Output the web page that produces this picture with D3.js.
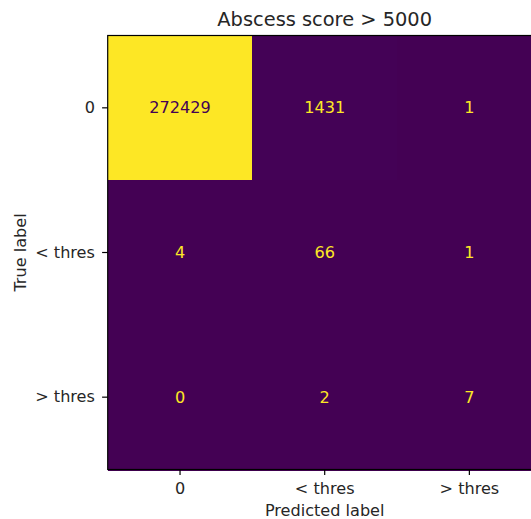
<!DOCTYPE html>
<html>
<head>
<meta charset="utf-8">
<script src="https://cdn.jsdelivr.net/npm/d3@7"></script>
<style>
  body { margin: 0; background: #fff; }
  svg { display: block; font-family: "DejaVu Sans", sans-serif; }
</style>
</head>
<body>
<svg></svg>
<script>
let width = 531, height = 519;

// confusion matrix data
let trueLabels = ["0", "< thres", "> thres"];
let predLabels = ["0", "< thres", "> thres"];
let counts = [
    [272429, 1431, 1],
    [4, 66, 1],
    [0, 2, 7]
];
let title = "Abscess score > 5000";

let svg = d3.select("svg")
    .attr("width", width)
    .attr("height", height);

// axes box (cut off on the right like the original)
let boxLeft = 107.7, boxTop = 35.5, boxSize = 434;
let fs = 16.1;

let x = d3.scaleBand().domain(predLabels).range([boxLeft, boxLeft + boxSize]);
let y = d3.scaleBand().domain(trueLabels).range([boxTop, boxTop + boxSize]);

let maxVal = d3.max(counts.flat());
let color = d3.scaleSequential(d3.interpolateViridis).domain([0, maxVal]);

let cells = [];
counts.forEach((row, i) => {
    row.forEach((v, j) => {
        cells.push({ t: trueLabels[i], p: predLabels[j], v: v });
    });
});

svg.append("g")
    .attr("shape-rendering", "crispEdges")
    .selectAll("rect")
    .data(cells)
    .enter()
    .append("rect")
    .attr("x", d => x(d.p))
    .attr("y", d => y(d.t))
    .attr("width", x.bandwidth() + 1)
    .attr("height", y.bandwidth() + 1)
    .attr("fill", d => color(d.v));

// cell text, dark on bright cells and bright on dark ones
let thresh = maxVal / 2;
svg.append("g")
    .selectAll("text")
    .data(cells)
    .enter()
    .append("text")
    .attr("x", d => x(d.p) + x.bandwidth() / 2)
    .attr("y", d => y(d.t) + y.bandwidth() / 2)
    .attr("text-anchor", "middle")
    .attr("dominant-baseline", "central")
    .attr("font-size", fs + "px")
    .attr("fill", d => d.v < thresh ? color(maxVal) : color(0))
    .text(d => d.v);

// frame
svg.append("rect")
    .attr("x", boxLeft)
    .attr("y", boxTop)
    .attr("width", boxSize)
    .attr("height", boxSize)
    .attr("fill", "none")
    .attr("stroke", "black")
    .attr("stroke-width", 1.2);

// axes
let xAxis = svg.append("g")
    .attr("transform", "translate(0," + (boxTop + boxSize) + ")")
    .call(d3.axisBottom(x).tickSize(5.6).tickPadding(7.4));
let yAxis = svg.append("g")
    .attr("transform", "translate(" + boxLeft + ",0)")
    .call(d3.axisLeft(y).tickSize(5.6).tickPadding(7.2));

[xAxis, yAxis].forEach(g => {
    g.select(".domain").remove();
    g.selectAll(".tick line").attr("stroke", "black").attr("stroke-width", 1.2);
    g.selectAll(".tick text")
        .attr("font-size", fs + "px")
        .attr("font-family", "DejaVu Sans, sans-serif")
        .attr("fill", "#262626");
});

// labels
svg.append("text")
    .attr("x", boxLeft + boxSize / 2)
    .attr("y", 26)
    .attr("text-anchor", "middle")
    .attr("font-size", "19.4px")
    .attr("fill", "#262626")
    .text(title);

svg.append("text")
    .attr("x", boxLeft + boxSize / 2)
    .attr("y", 516)
    .attr("text-anchor", "middle")
    .attr("font-size", fs + "px")
    .attr("fill", "#262626")
    .text("Predicted label");

svg.append("text")
    .attr("transform", "translate(26," + (boxTop + boxSize / 2) + ") rotate(-90)")
    .attr("text-anchor", "middle")
    .attr("font-size", fs + "px")
    .attr("fill", "#262626")
    .text("True label");
</script>
</body>
</html>
